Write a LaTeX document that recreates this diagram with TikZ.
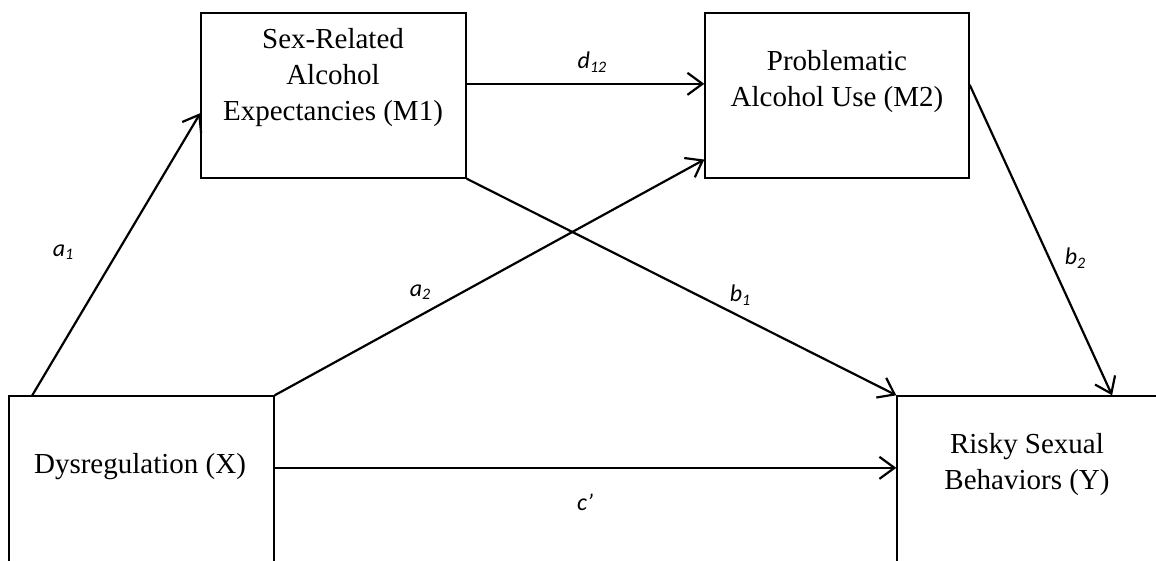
\documentclass[tikz,border=0pt]{standalone}
\usepackage{fontspec}
\setmainfont{Liberation Serif}
\newfontfamily\labelfont{Carlito}
\usetikzlibrary{arrows.meta,calc}

\newcommand{\coefsub}[1]{\raisebox{-0.3ex}{\fontsize{16}{16}\selectfont #1}}

\begin{document}
\begin{tikzpicture}[x=1pt,y=-1pt,
  varbox/.style={draw, line width=1.4pt, minimum width=265pt, inner sep=0pt},
  vartext/.style={align=center, font=\fontsize{29}{36}\selectfont, inner sep=0pt},
  effect/.style={-{Straight Barb[length=15pt,width=22pt]}, line width=2.2pt},
  coef/.style={font=\labelfont\itshape\fontsize{24}{24}\selectfont, inner sep=0pt}]
  \useasboundingbox (0,0) rectangle (1156,561);
  \clip (0,0) rectangle (1156,561);
  % variables
  \node[varbox, minimum height=180pt] (dys) at (141.5,486) {};
  \node[vartext] (dystext) at (140,467) {Dysregulation (X)};
  \node[varbox, minimum height=180pt] (risk) at (1029.5,486) {};
  \node[vartext] (risktext) at (1027,465) {Risky Sexual\\Behaviors (Y)};
  \node[varbox, minimum height=165pt] (mone) at (333.5,95.5) {};
  \node[vartext] (monetext) at (333,78) {Sex-Related\\Alcohol\\Expectancies (M1)};
  \node[varbox, minimum height=165pt, minimum width=264pt] (mtwo) at (837,95.5) {};
  \node[vartext] (mtwotext) at (837,81.5) {Problematic\\Alcohol Use (M2)};
  % paths
  \draw[effect] ($(dys.north west)!0.09!(dys.north east)$) -- ($(mone.north west)!0.606!(mone.south west)$);
  \draw[effect] ($(mone.north east)!0.43!(mone.south east)$) -- ($(mtwo.north west)!0.43!(mtwo.south west)$);
  \draw[effect] (dys.north east) -- ($(mtwo.north west)!0.885!(mtwo.south west)$);
  \draw[effect] (mone.south east) -- (risk.north west);
  \draw[effect] ($(mtwo.north east)!0.436!(mtwo.south east)$) -- ($(risk.north west)!0.81!(risk.north east)$);
  \draw[effect] ($(dys.north east)!0.4!(dys.south east)$) -- ($(risk.north west)!0.4!(risk.south west)$);
  % coefficients
  \node[coef] (la1) at (63,252) {a\coefsub{1}};
  \node[coef] (ld12) at (592,62) {d\coefsub{12}};
  \node[coef] (la2) at (420,292) {a\coefsub{2}};
  \node[coef] (lb1) at (740,295) {b\coefsub{1}};
  \node[coef] (lb2) at (1075,258) {b\coefsub{2}};
  \node[coef] (lc) at (585,502) {c’};
\end{tikzpicture}
\end{document}
